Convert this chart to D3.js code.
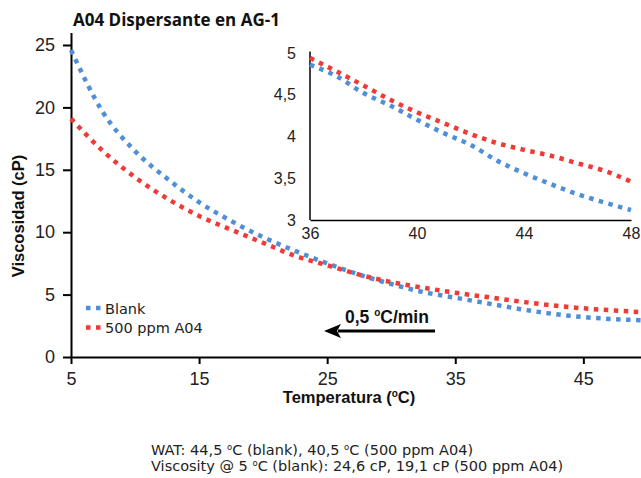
<!DOCTYPE html>
<html>
<head>
<meta charset="utf-8">
<script src="https://cdn.jsdelivr.net/npm/d3@7"></script>
<style>
  html, body { margin: 0; padding: 0; background: #fff; }
  svg { display: block; font-family: "Liberation Sans", Arial, sans-serif; }
</style>
</head>
<body>
<svg id="chart" width="641" height="478"></svg>
<script>
// Viscosity vs temperature, cooling run
const temps = [5, 7.5, 10, 12.5, 15, 17.5, 20, 22.5, 25, 27.5, 30, 32.5, 35, 37.5, 40, 42.5, 45, 47.5, 49.5];
const blank = [24.6, 19.6, 16.5, 14.3, 12.4, 10.9, 9.6, 8.5, 7.5, 6.6, 5.85, 5.2, 4.75, 4.3, 3.85, 3.47, 3.2, 3.03, 2.95];
const a04   = [19.1, 16.5, 14.4, 12.7, 11.3, 10.2, 9.15, 8.1, 7.35, 6.6, 6.0, 5.55, 5.15, 4.8, 4.45, 4.15, 3.9, 3.72, 3.6];

// Zoomed window 36–48 °C
const insetTemps = [36, 37, 38, 39, 40, 41, 42, 43, 44, 45, 46, 47, 48];
const insetBlank = [4.86, 4.72, 4.52, 4.37, 4.20, 4.04, 3.90, 3.71, 3.56, 3.43, 3.31, 3.21, 3.12];
const insetA04   = [4.94, 4.78, 4.61, 4.44, 4.29, 4.16, 4.03, 3.92, 3.84, 3.77, 3.68, 3.59, 3.46];

const seriesNames = ["Blank", "500 ppm A04"];
const xTicks = [5, 15, 25, 35, 45];
const yTicks = [0, 5, 10, 15, 20, 25];
const insetXTicks = [36, 40, 44, 48];
const insetYTicks = [3, 3.5, 4, 4.5, 5];

const BLUE = "#4f8fd8";
const RED = "#ef3a36";
const DASH = "4.5,5.5";
const WIDE = "DejaVu Sans, Verdana, sans-serif";
const fmt = d => String(d).replace(".", ",");

const svg = d3.select("#chart");

// Main scales
const x = d3.scaleLinear().domain([5, 49.5]).range([71, 641]);
const y = d3.scaleLinear().domain([0, 26]).range([357, 32.5]);

// Y axis
const yAxis = svg.append("g").attr("transform", "translate(71,0)")
  .call(d3.axisLeft(y).tickValues(yTicks).tickSize(8).tickSizeOuter(0).tickPadding(8).tickFormat(fmt));
yAxis.select(".domain").attr("stroke", "#000").attr("stroke-width", 2);
yAxis.selectAll(".tick line").attr("stroke", "#000").attr("stroke-width", 2);
yAxis.selectAll(".tick text").attr("font-size", 18).attr("fill", "#222")
  .attr("font-family", "Liberation Sans, Arial, sans-serif");

// X axis
const xAxis = svg.append("g").attr("transform", "translate(0,357)")
  .call(d3.axisBottom(x).tickValues(xTicks).tickSize(7).tickSizeOuter(0).tickPadding(8).tickFormat(fmt));
xAxis.select(".domain").attr("stroke", "#000").attr("stroke-width", 2);
xAxis.selectAll(".tick line").attr("stroke", "#000").attr("stroke-width", 2);
xAxis.selectAll(".tick text").attr("font-size", 18).attr("fill", "#222")
  .attr("font-family", "Liberation Sans, Arial, sans-serif");

// Curves
const line = d3.line().x(d => x(d[0])).y(d => y(d[1])).curve(d3.curveMonotoneX);
[[blank, BLUE], [a04, RED]].forEach(([vals, col]) => {
  svg.append("path")
    .datum(temps.map((t, i) => [t, vals[i]]))
    .attr("d", line)
    .attr("fill", "none").attr("stroke", col)
    .attr("stroke-width", 4.5).attr("stroke-dasharray", DASH);
});

// Title
svg.append("text").attr("x", 73).attr("y", 26)
  .attr("font-family", "Open Sans, sans-serif").attr("font-size", 17).attr("font-weight", "bold").attr("fill", "#111")
  .text("A04 Dispersante en AG-1");

// Axis titles
const xt = svg.append("text").attr("x", 349).attr("y", 403).attr("text-anchor", "middle")
  .attr("font-size", 16.5).attr("font-weight", "bold").attr("fill", "#111");
xt.append("tspan").text("Temperatura (");
xt.append("tspan").attr("font-size", 10).attr("dy", -6).text("o");
xt.append("tspan").attr("dy", 6).text("C)");

svg.append("text").attr("transform", "translate(24,216) rotate(-90)").attr("text-anchor", "middle")
  .attr("font-size", 16.5).attr("font-weight", "bold").attr("fill", "#111")
  .text("Viscosidad (cP)");

// Legend
const legendRows = [[seriesNames[0], BLUE, 308], [seriesNames[1], RED, 327.5]];
legendRows.forEach(([name, col, ly]) => {
  svg.append("line").attr("x1", 86).attr("x2", 101).attr("y1", ly).attr("y2", ly)
    .attr("stroke", col).attr("stroke-width", 4.5).attr("stroke-dasharray", DASH);
  svg.append("text").attr("x", 105).attr("y", ly + 5.5)
    .attr("font-family", WIDE).attr("font-size", 14.5).attr("fill", "#222").text(name);
});

// Cooling-rate arrow
const at = svg.append("text").attr("x", 345).attr("y", 323)
  .attr("font-size", 17.5).attr("font-weight", "bold").attr("fill", "#111");
at.append("tspan").text("0,5 ");
at.append("tspan").attr("font-size", 10).attr("dy", -7).text("o");
at.append("tspan").attr("dy", 7).text("C/min");
svg.append("line").attr("x1", 338).attr("x2", 435).attr("y1", 331).attr("y2", 331)
  .attr("stroke", "#000").attr("stroke-width", 3);
svg.append("path").attr("d", "M324,331 L341,324 L337,331 L341,338 Z").attr("fill", "#000");

// Inset
const ix = d3.scaleLinear().domain([36, 48]).range([310, 631]);
const iy = d3.scaleLinear().domain([3, 5]).range([220, 53]);
svg.append("rect").attr("x", 310).attr("y", 46).attr("width", 326).attr("height", 174).attr("fill", "#fff");

const iyAxis = svg.append("g").attr("transform", "translate(310,0)")
  .call(d3.axisLeft(iy).tickValues(insetYTicks).tickSize(0).tickSizeOuter(0).tickPadding(14).tickFormat(fmt));
const ixAxis = svg.append("g").attr("transform", "translate(0,220)")
  .call(d3.axisBottom(ix).tickValues(insetXTicks).tickSize(0).tickSizeOuter(0).tickPadding(8).tickFormat(fmt));
[iyAxis, ixAxis].forEach(g => {
  g.select(".domain").attr("stroke", "#000").attr("stroke-width", 1.5);
  g.selectAll(".tick text").attr("font-size", 16).attr("fill", "#222")
    .attr("font-family", "Liberation Sans, Arial, sans-serif");
});
iyAxis.select(".domain").attr("d", "M0,51.5V220");

const iline = d3.line().x(d => ix(d[0])).y(d => iy(d[1])).curve(d3.curveMonotoneX);
[[insetBlank, BLUE], [insetA04, RED]].forEach(([vals, col]) => {
  svg.append("path")
    .datum(insetTemps.map((t, i) => [t, vals[i]]))
    .attr("d", iline)
    .attr("fill", "none").attr("stroke", col)
    .attr("stroke-width", 4.5).attr("stroke-dasharray", DASH);
});

// Notes below the chart
function note(yPos, parts) {
  const t = svg.append("text").attr("x", 151).attr("y", yPos)
    .attr("font-family", WIDE).attr("font-size", 14.5).attr("fill", "#222");
  parts.forEach(p => {
    if (p === "deg") {
      t.append("tspan").attr("font-size", 8.5).attr("dy", -5).text("o");
      t.append("tspan").attr("dy", 5).text("C");
    } else {
      t.append("tspan").text(p);
    }
  });
}
note(455, ["WAT: 44,5 ", "deg", " (blank), 40,5 ", "deg", " (500 ppm A04)"]);
note(471, ["Viscosity @ 5 ", "deg", " (blank): 24,6 cP, 19,1 cP (500 ppm A04)"]);
</script>
</body>
</html>
